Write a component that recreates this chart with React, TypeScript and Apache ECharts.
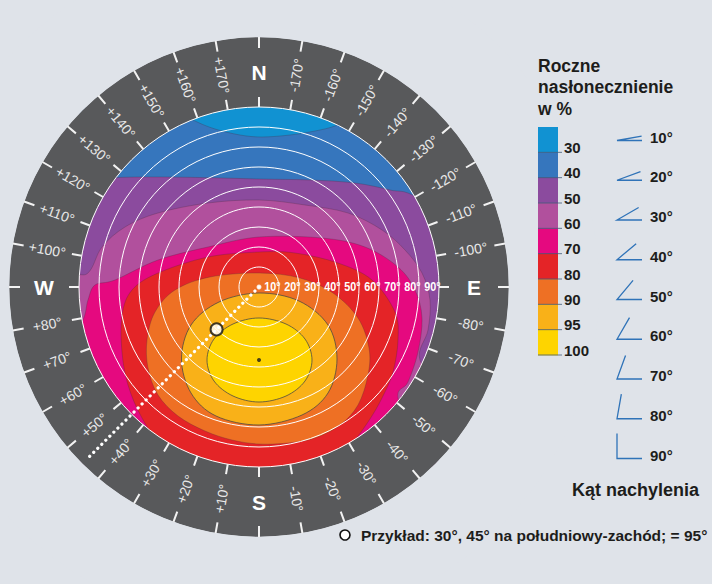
import React, { useEffect, useRef } from "react";
import * as echarts from "echarts";

const FONT = '"Liberation Sans", Arial, Helvetica, sans-serif';
const BG = "#dfe3e9";
const RING_COLOR = "#58595b";
const TEXT = "#1d1d1b";

// Annual irradiation levels (%) and colours
const levels = [30, 40, 50, 60, 70, 80, 90, 95, 100];
const levelColors = ["#1192d2", "#3676bd", "#8b4b9e", "#b1509d", "#e5097f", "#e42427", "#ee7024", "#f9b118", "#fed400"];

// Contour boundaries, in tilt-degree units: [east offset, south offset]
const contour40 = [[-39.5, -87.5], [-32, -83], [-22, -79], [-9.5, -76], [1.5, -75], [15.5, -76], [28, -78], [38, -80.5], [45.5, -84.5],
  [85, -100], [125, -45], [135, 30], [100, 100], [0, 140], [-100, 100], [-135, 30], [-125, -45], [-80, -105]];
const contour50 = [[-74.5, -54.5], [-54.5, -55], [-29.5, -54.75], [0, -54], [25.5, -53.5], [48, -52], [65.5, -48.5], [79.5, -44.5],
  [115, -20], [135, 30], [100, 100], [0, 140], [-100, 100], [-135, 30], [-120, -30], [-95, -52]];
const contour60 = [[0, -43.5], [23, -41], [44.5, -37], [61.5, -28.5], [73, -18.5], [81.5, -7], [85.5, 6.5], [84.5, 21.5], [80.5, 36.5],
  [95, 55], [100, 100], [0, 140], [-100, 100], [-125, 40], [-98, -2], [-85.5, -7], [-78.5, -20], [-67, -30], [-50.5, -37], [-25.5, -42]];
const contour70 = [[0, -25], [31.5, -24.5], [53, -20], [69.5, -10], [78, 1.5], [81.5, 15.5], [79.5, 32.5], [74.5, 47.5], [69.5, 55.5],
  [80, 80], [40, 125], [-40, 125], [-95, 70], [-100, 35], [-88.5, 17.5], [-85.5, 6.5], [-82, -1], [-72, -3.5], [-50.5, -13.5], [-25.5, -20]];
const contour80 = [[0, -17.5], [18, -17], [39.5, -12], [56.5, -3.5], [68, 12.5], [69.5, 26.5], [67, 42.5], [61.5, 55.5], [54.5, 67.5],
  [45.5, 79], [30.5, 90.5], [10.5, 96.5], [-9.5, 96.5], [-29.5, 91.5], [-47, 81.5], [-58.5, 65.5], [-65.5, 49], [-68.5, 32.5],
  [-68.5, 14], [-63.5, 1.5], [-50.5, -7], [-25.5, -15]];
const contour90 = [[0, -7], [20.5, -4.5], [37, 3], [49.5, 15.5], [55, 30.5], [54.5, 44], [49.5, 59], [40.5, 69], [28, 75.5], [14.5, 78],
  [0, 78.5], [-13.5, 76.5], [-27, 72], [-40.5, 64.5], [-50.5, 54], [-55.5, 40.5], [-56, 26.5], [-52, 12.5], [-42, 1.5], [-24.5, -5]];
const contour95 = [[39, 36], [34.5, 53], [21.5, 64], [0, 69], [-21.5, 64.5], [-34, 53], [-38.75, 36], [-34, 19], [-20, 7.5],
  [0, 3], [20, 7], [34.5, 19]];
const contour100 = [[26.5, 36.5], [23, 47], [13.5, 54.5], [0, 57.5], [-13, 54.5], [-22.5, 47], [-26, 36.5], [-22.5, 26],
  [-13, 18.5], [0, 15.5], [13.5, 18.5], [23, 26]];
const contours = [[], contour40, contour50, contour60, contour70, contour80, contour90, contour95, contour100];

// Tilt circles
const tiltTicks = [10, 20, 30, 40, 50, 60, 70, 80, 90];
const tiltLabels = ["10°", "20°", "30°", "40°", "50°", "60°", "70°", "80°", "90°"];
const tiltLabelAzimuth = -90;

// Azimuth ring (0 = south, + = west, - = east)
const ringAzimuths = [0, 10, 20, 30, 40, 50, 60, 70, 80, 90, 100, 110, 120, 130, 140, 150, 160, 170, 180,
  -170, -160, -150, -140, -130, -120, -110, -100, -90, -80, -70, -60, -50, -40, -30, -20, -10];
const ringLabels = ["S", "+10°", "+20°", "+30°", "+40°", "+50°", "+60°", "+70°", "+80°", "W", "+100°", "+110°", "+120°",
  "+130°", "+140°", "+150°", "+160°", "+170°", "N", "-170°", "-160°", "-150°", "-140°", "-130°", "-120°", "-110°", "-100°",
  "E", "-80°", "-70°", "-60°", "-50°", "-40°", "-30°", "-20°", "-10°"];

// Points: [tilt, azimuth]
const optimumPoint = [36.5, 0];
const examplePoint = [30, 45];
// Guide line: [from tilt, azimuth, to tilt]
const exampleGuide = [0, 45, 121.5];
const centerPoint = [0, 0];

// Legend for tilt angle
const tiltLegendAngles = [10, 20, 30, 40, 50, 60, 70, 80, 90];

const CX = 259, CY = 287, R = 180, RING = 250, LABEL_R = 215;

function splinePath(pts: number[][]) {
  const n = pts.length;
  const f = (v: number) => v.toFixed(2);
  let d = `M${f(pts[0][0])},${f(pts[0][1])}`;
  for (let i = 0; i < n; i++) {
    const p0 = pts[(i - 1 + n) % n], p1 = pts[i], p2 = pts[(i + 1) % n], p3 = pts[(i + 2) % n];
    const c1x = p1[0] + (p2[0] - p0[0]) / 6, c1y = p1[1] + (p2[1] - p0[1]) / 6;
    const c2x = p2[0] - (p3[0] - p1[0]) / 6, c2y = p2[1] - (p3[1] - p1[1]) / 6;
    d += `C${f(c1x)},${f(c1y)} ${f(c2x)},${f(c2y)} ${f(p2[0])},${f(p2[1])}`;
  }
  return d + "Z";
}

function buildOption() {
  const legend: any[] = [];
  legend.push({ type: "ring", silent: true, z: 3, shape: { cx: CX, cy: CY, r: RING, r0: R }, style: { fill: RING_COLOR } });
  legend.push({ type: "ring", silent: true, z: 3, shape: { cx: CX, cy: CY, r: 340, r0: RING - 0.3 }, style: { fill: BG } });
  legend.push({ type: "text", x: 538, y: 55, z: 20, style: { text: "Roczne\nnasłonecznienie\nw %", fill: TEXT, fontSize: 17.5, fontWeight: "bold", fontFamily: FONT, lineHeight: 21.5 } });
  const barTop = 127, segH = 228 / 9;
  levels.forEach((lv, i) => {
    legend.push({ type: "rect", z: 20, shape: { x: 538, y: barTop + i * segH, width: 20, height: segH + 0.4 }, style: { fill: levelColors[i] } });
    legend.push({ type: "line", z: 21, shape: { x1: 538, y1: barTop + (i + 1) * segH, x2: 562, y2: barTop + (i + 1) * segH }, style: { stroke: "#3f5a78", lineWidth: 0.8 } });
    legend.push({ type: "text", z: 21, x: 564, y: barTop + (i + 1) * segH - 5, style: { text: String(lv), fill: TEXT, fontSize: 15, fontWeight: "bold", fontFamily: FONT, verticalAlign: "middle" } });
  });
  tiltLegendAngles.forEach((a, i) => {
    const ly = 137 + 39.75 * i;
    const by = ly + 3.5;
    const rad = (a * Math.PI) / 180;
    legend.push({ type: "polyline", z: 20, shape: { points: [[617 + 25 * Math.cos(rad), by - 25 * Math.sin(rad)], [617, by], [642, by]] }, style: { stroke: "#2f73b8", lineWidth: 1.3, fill: null } });
    legend.push({ type: "text", z: 21, x: 650, y: ly, style: { text: a + "°", fill: TEXT, fontSize: 15, fontWeight: "bold", fontFamily: FONT, verticalAlign: "middle" } });
  });
  legend.push({ type: "text", z: 20, x: 572, y: 490, style: { text: "Kąt nachylenia", fill: TEXT, fontSize: 18, fontWeight: "bold", fontFamily: FONT, verticalAlign: "middle" } });
  legend.push({ type: "circle", z: 20, shape: { cx: 345, cy: 535, r: 5 }, style: { fill: "#ffffff", stroke: "#111111", lineWidth: 1.6 } });
  legend.push({ type: "text", z: 20, x: 361, y: 535, style: { text: "Przykład: 30°, 45° na południowy-zachód; = 95°", fill: TEXT, fontSize: 15.5, fontWeight: "bold", fontFamily: FONT, verticalAlign: "middle" } });

  return {
    animation: false,
    backgroundColor: BG,
    grid: { left: CX - R, top: CY - R, width: 2 * R, height: 2 * R, show: false },
    xAxis: { type: "value", min: -90, max: 90, show: false },
    yAxis: { type: "value", min: -90, max: 90, inverse: true, show: false },
    polar: [{ center: [CX, CY], radius: R }, { center: [CX, CY], radius: RING }],
    radiusAxis: [
      { polarIndex: 0, type: "value", min: 0, max: 90, interval: 10, z: 4, axisLine: { show: false }, axisTick: { show: false }, axisLabel: { show: false }, splitLine: { show: true, lineStyle: { color: "#ffffff", width: 1 } } },
      { polarIndex: 1, type: "value", min: 0, max: 1, show: false, axisLine: { show: false }, axisTick: { show: false }, axisLabel: { show: false }, splitLine: { show: false } },
    ],
    angleAxis: [
      { polarIndex: 0, type: "value", min: -180, max: 180, interval: 10, startAngle: 90, clockwise: true, z: 8, axisLine: { show: false }, axisLabel: { show: false }, splitLine: { show: false }, axisTick: { show: true, inside: false, length: 10, lineStyle: { color: "#f2f2f2", width: 2 } } },
      { polarIndex: 1, type: "value", min: -180, max: 180, interval: 10, startAngle: 90, clockwise: true, z: 8, axisLine: { show: false }, axisLabel: { show: false }, splitLine: { show: false }, axisTick: { show: true, inside: true, length: 11, lineStyle: { color: "#f2f2f2", width: 2 } } },
    ],
    graphic: { elements: legend },
    series: [
      {
        type: "custom", coordinateSystem: "cartesian2d", silent: true, z: 1, clip: true,
        data: levels.map((v, i) => [i, v]),
        renderItem: (params: any, api: any) => {
          const i = params.dataIndex;
          if (i === 0) {
            const c = api.coord([0, 0]);
            const e = api.coord([90, 0]);
            return { type: "circle", shape: { cx: c[0], cy: c[1], r: e[0] - c[0] + 1 }, style: { fill: levelColors[0] } };
          }
          const pts = contours[i].map((p: number[]) => api.coord(p));
          const strong = i >= 7;
          return {
            type: "path",
            shape: { pathData: splinePath(pts) },
            style: { fill: levelColors[i], stroke: strong ? "rgba(70,70,70,0.85)" : "rgba(70,40,60,0.35)", lineWidth: strong ? 0.9 : 0.8 },
          };
        },
      },
      {
        type: "custom", coordinateSystem: "polar", polarIndex: 0, silent: true, z: 9,
        data: ringAzimuths.map((a) => [90, a]),
        renderItem: (params: any, api: any) => {
          const az = api.value(1);
          const c = api.coord([0, az]);
          const e = api.coord([api.value(0), az]);
          const k = LABEL_R / R;
          const x = c[0] + (e[0] - c[0]) * k;
          const y = c[1] + (e[1] - c[1]) * k;
          const label = ringLabels[params.dataIndex];
          const compass = label.length === 1;
          const theta = Math.atan2(-(y - c[1]), x - c[0]);
          const rot = compass ? 0 : x - c[0] >= 0 ? theta : theta - Math.PI;
          return {
            type: "text", x, y, rotation: rot,
            style: {
              text: label, fill: compass ? "#ffffff" : "#e8e8e8", fontFamily: FONT,
              fontSize: compass ? 21 : 14, fontWeight: compass ? "bold" : "normal",
              align: "center", verticalAlign: "middle",
            },
          };
        },
      },
      {
        type: "custom", coordinateSystem: "polar", polarIndex: 0, silent: true, z: 9,
        data: tiltTicks.map((t) => [t, tiltLabelAzimuth]),
        renderItem: (params: any, api: any) => {
          const p = api.coord([api.value(0), api.value(1)]);
          return {
            type: "text", x: p[0] + 1.5, y: p[1] - 0.5, scaleX: 0.8,
            style: { text: tiltLabels[params.dataIndex], fill: "#ffffff", fontFamily: FONT, fontSize: 13.5, fontWeight: "bold", align: "right", verticalAlign: "middle" },
          };
        },
      },
      {
        type: "custom", coordinateSystem: "polar", polarIndex: 0, silent: true, z: 10,
        data: [exampleGuide],
        renderItem: (params: any, api: any) => {
          const az = api.value(1);
          const c = api.coord([0, az]);
          const e = api.coord([90, az]);
          const t0 = api.value(0) / 90, t1 = api.value(2) / 90;
          return {
            type: "line",
            shape: { x1: c[0] + (e[0] - c[0]) * t0, y1: c[1] + (e[1] - c[1]) * t0, x2: c[0] + (e[0] - c[0]) * t1, y2: c[1] + (e[1] - c[1]) * t1 },
            style: { stroke: "#ffffff", lineWidth: 3.2, lineDash: [0.1, 5.6], lineCap: "round" },
          };
        },
      },
      {
        type: "scatter", coordinateSystem: "polar", polarIndex: 0, silent: true, z: 11,
        data: [centerPoint], symbolSize: 5, itemStyle: { color: "#ffffff" },
      },
      {
        type: "scatter", coordinateSystem: "polar", polarIndex: 0, silent: true, z: 11,
        data: [examplePoint], symbolSize: 12, itemStyle: { color: "#ffffff", borderColor: "#111111", borderWidth: 2 },
      },
      {
        type: "scatter", coordinateSystem: "polar", polarIndex: 0, silent: true, z: 11,
        data: [optimumPoint], symbolSize: 4, itemStyle: { color: "#1a1a1a" },
      },
    ],
  };
}

export default function App() {
  const ref = useRef<HTMLDivElement>(null);
  useEffect(() => {
    if (!ref.current) return;
    const chart = echarts.init(ref.current, null, { renderer: "svg" });
    chart.setOption(buildOption() as any);
    return () => chart.dispose();
  }, []);
  return <div ref={ref} style={{ position: "absolute", left: 0, top: 0, width: 712, height: 584, background: BG }} />;
}
